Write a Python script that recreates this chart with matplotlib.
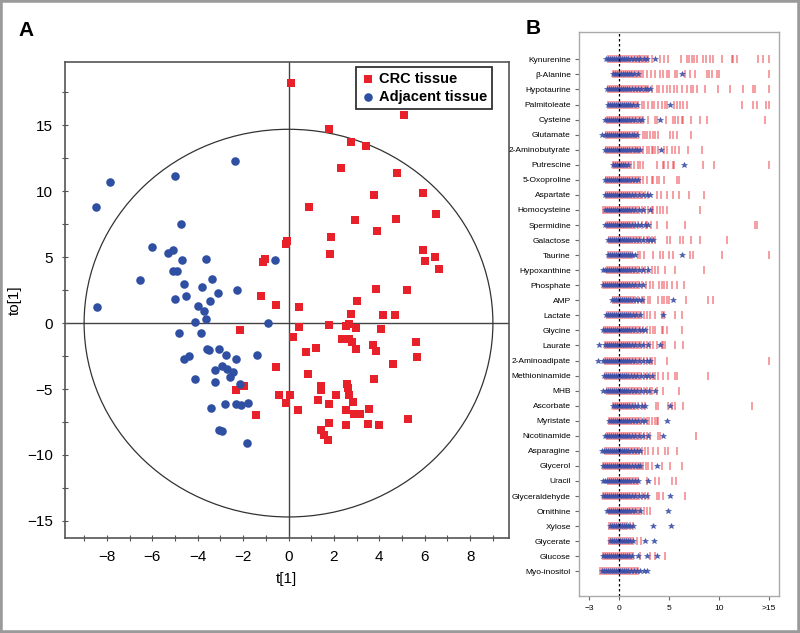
import matplotlib
matplotlib.use('Agg')
import matplotlib.pyplot as plt
from matplotlib.patches import Ellipse, Rectangle
from matplotlib.ticker import MultipleLocator
import numpy as np

plt.rcParams['font.family'] = ['Liberation Sans', 'DejaVu Sans']

# ---------------- Panel A: OPLS-DA score plot ----------------
crc_t = [0.13, 0.89, -0.06, -0.10, -1.04, -1.11, -1.23, -0.53, 0.45, 0.45, -2.15, 0.19,
         5.07, 1.77, 2.74, 3.43, 2.29, 4.78, 3.77, 5.93, 6.51, 2.92, 4.75, 3.91, 1.88,
         1.83, 5.93, 6.45, 6.02, 6.64, 3.87, 5.23, 3.03, 2.77, 4.15, 4.67, 1.80, 2.52,
         2.65, 2.99, 4.07, 2.36, 2.54, 2.68, 2.81, 2.95, 3.74, 3.87, 5.60, 5.66, 1.20,
         0.76, 4.59, -0.53, 0.88, 3.77, 2.59, 2.64, 1.45, 1.42, -0.40, 0.06, -0.09,
         0.44, 1.32, 1.77, 2.11, 2.68, 2.86, 2.54, 2.90, 3.16, 3.56, 3.52, 4.00, 5.26,
         1.77, 2.54, 1.41, 1.55, 1.74, -2.30, -1.95, -1.41]
crc_to = [18.24, 8.78, 6.20, 6.03, 4.86, 4.60, 2.04, 1.37, 1.20, -0.28, -0.53, -1.02,
          15.75, 14.70, 13.76, 13.40, 11.78, 11.37, 9.72, 9.90, 8.24, 7.81, 7.86, 7.02, 6.56,
          5.21, 5.57, 4.98, 4.70, 4.12, 2.60, 2.52, 1.68, 0.66, 0.61, 0.61, -0.15, -0.20,
          -0.08, -0.36, -0.46, -1.22, -1.17, -1.22, -1.43, -1.93, -1.65, -2.08, -1.45, -2.60, -1.86,
          -2.16, -3.13, -3.36, -3.87, -4.22, -4.58, -4.91, -4.78, -5.09, -5.47, -5.42, -6.03,
          -6.59, -5.80, -6.13, -5.47, -5.42, -6.00, -6.59, -6.87, -6.92, -6.49, -7.63, -7.69, -7.25,
          -7.60, -7.69, -8.12, -8.45, -8.83, -5.04, -4.78, -7.00]

adj_t = [-2.34, -7.84, -5.01, -8.48, -4.73, -6.02, -5.30, -5.07, -4.67, -3.63, -0.58,
         -5.10, -4.90, -6.52, -3.38, -4.59, -3.81, -3.12, -2.27, -5.01, -4.53, -3.47,
         -8.45, -3.99, -3.74, -3.63, -4.13, -0.91, -4.82, -3.85, -3.57, -3.48, -3.08,
         -2.74, -2.30, -1.37, -4.59, -4.38, -2.92, -3.22, -2.70, -2.43, -2.56, -4.12,
         -3.24, -2.15, -3.43, -2.78, -2.30, -2.11, -1.80, -3.06, -2.92, -1.83]
adj_to = [12.27, 10.69, 11.12, 8.78, 7.53, 5.80, 5.34, 5.55, 4.78, 4.86, 4.78,
          3.92, 3.92, 3.26, 3.33, 2.93, 2.75, 2.29, 2.54, 1.81, 2.06, 1.65,
          1.25, 1.30, 0.92, 0.31, 0.05, 0.00, -0.73, -0.76, -1.98, -2.06, -1.93,
          -2.44, -2.70, -2.43, -2.70, -2.49, -3.26, -3.59, -3.51, -3.72, -4.10, -4.27,
          -4.48, -4.58, -6.41, -6.16, -6.13, -6.18, -6.03, -8.14, -8.20, -9.08]

# ---------------- Panel B: per-metabolite profiles ----------------
metabolites = ['Kynurenine', 'β-Alanine', 'Hypotaurine', 'Palmitoleate', 'Cysteine',
               'Glutamate', '2-Aminobutyrate', 'Putrescine', '5-Oxoproline', 'Aspartate',
               'Homocysteine', 'Spermidine', 'Galactose', 'Taurine', 'Hypoxanthine',
               'Phosphate', 'AMP', 'Lactate', 'Glycine', 'Laurate', '2-Aminoadipate',
               'Methioninamide', 'MHB', 'Ascorbate', 'Myristate', 'Nicotinamide',
               'Asparagine', 'Glycerol', 'Uracil', 'Glyceraldehyde', 'Ornithine',
               'Xylose', 'Glycerate', 'Glucose', 'Myo-inositol']

crc_profiles = [
    [-1.1, -0.9, -0.7, -0.5, -0.3, -0.1, 0.1, 0.2, 0.4, 0.6, 0.8, 1.0, 1.2, 1.4, 1.6, 1.8, 2.0, 2.1, 2.3, 2.5, 2.7,
     2.9, 3.3, 4.1, 4.5, 4.9, 6.2, 6.8, 7.0, 7.3, 7.5, 7.8, 8.4, 8.7, 9.1, 9.4, 10.3, 11.3, 11.4, 11.8, 13.9, 14.4, 15.0],
    [-0.6, -0.4, -0.2, 0.0, 0.2, 0.4, 0.6, 0.8, 1.0, 1.2, 1.4, 1.6, 1.8, 2.0, 2.2, 2.4,
     2.8, 3.2, 3.6, 4.1, 4.4, 4.8, 5.0, 5.6, 5.8, 6.6, 7.1, 7.6, 8.8, 9.0, 9.3, 9.8, 10.0, 15.0],
    [-1.1, -0.9, -0.7, -0.5, -0.3, -0.1, 0.1, 0.3, 0.5, 0.7, 0.9, 1.1, 1.3, 1.5, 1.7, 1.9, 2.1, 2.3, 2.5, 2.7, 2.9,
     3.3, 3.8, 4.0, 4.4, 4.8, 5.1, 5.5, 5.8, 6.3, 6.8, 7.2, 7.4, 7.8, 8.6, 9.9, 11.1, 12.4, 13.4, 13.6, 15.0],
    [-1.1, -0.9, -0.7, -0.5, -0.3, -0.1, 0.1, 0.3, 0.5, 0.7, 0.9, 1.1, 1.3, 1.5, 1.7, 1.9,
     2.3, 2.5, 2.9, 3.3, 3.5, 3.9, 4.3, 4.6, 4.8, 5.5, 5.8, 6.1, 6.4, 6.8, 12.3, 13.4, 13.8, 14.7, 15.0],
    [-1.2, -1.0, -0.8, -0.6, -0.4, -0.2, 0.0, 0.2, 0.4, 0.6, 0.8, 1.0, 1.2, 1.4, 1.6, 1.8, 2.0, 2.2, 2.4,
     2.9, 3.6, 3.8, 4.7, 5.4, 5.6, 5.9, 6.3, 6.4, 7.2, 8.1, 8.8, 14.6],
    [-1.3, -1.1, -0.9, -0.7, -0.5, -0.3, -0.1, 0.1, 0.3, 0.5, 0.7, 0.9, 1.1, 1.3, 1.5, 1.7, 1.9,
     2.4, 2.6, 2.8, 3.1, 3.4, 3.6, 3.9, 5.1, 5.4, 5.8, 7.2],
    [-1.3, -1.1, -0.9, -0.7, -0.5, -0.3, -0.1, 0.1, 0.3, 0.5, 0.7, 0.9, 1.1, 1.3, 1.5, 1.7, 1.9, 2.1,
     2.4, 2.8, 3.0, 3.3, 3.4, 3.6, 3.9, 4.5, 4.8, 5.3, 5.6, 6.0, 6.9, 8.3],
    [-0.6, -0.4, -0.2, 0.0, 0.2, 0.4, 0.6, 0.8, 1.0, 1.2, 1.5,
     1.9, 2.1, 2.4, 3.8, 4.4, 4.5, 4.9, 5.4, 5.5, 8.4, 9.5, 15.0],
    [-1.3, -1.1, -0.9, -0.7, -0.5, -0.3, -0.1, 0.1, 0.3, 0.5, 0.7, 0.9, 1.1, 1.3, 1.5, 1.7, 1.9, 2.1,
     2.4, 2.8, 3.3, 3.4, 3.8, 4.0, 4.5, 5.8, 6.0],
    [-1.3, -1.1, -0.9, -0.7, -0.5, -0.3, -0.1, 0.1, 0.3, 0.5, 0.7, 0.9, 1.1, 1.3, 1.5, 1.7, 1.9, 2.1, 2.3, 2.6,
     2.9, 3.8, 4.2, 4.8, 5.4, 6.0, 7.0, 8.5],
    [-1.6, -1.4, -1.2, -1.0, -0.8, -0.6, -0.4, -0.2, 0.0, 0.2, 0.4, 0.6, 0.8, 1.0, 1.2, 1.4, 1.6, 1.8, 2.0, 2.3, 2.6,
     2.9, 3.3, 3.4, 3.8, 4.1, 4.4, 4.8, 8.1],
    [-1.2, -1.0, -0.8, -0.6, -0.4, -0.2, 0.0, 0.2, 0.4, 0.6, 0.8, 1.0, 1.2, 1.4, 1.6,
     1.9, 2.3, 2.7, 2.8, 3.2, 3.8, 4.8, 6.6, 13.6, 13.8],
    [-1.0, -0.8, -0.6, -0.4, -0.2, 0.0, 0.2, 0.4, 0.6, 0.8, 1.0, 1.2, 1.4, 1.6, 1.8, 2.0, 2.2, 2.5, 2.8, 3.0, 3.3,
     3.6, 4.8, 5.1, 6.1, 6.4, 7.2, 8.1, 10.8],
    [-1.1, -0.9, -0.7, -0.5, -0.3, -0.1, 0.1, 0.3, 0.5, 0.7, 0.9, 1.1, 1.3,
     1.9, 2.1, 2.5, 3.4, 4.1, 4.4, 5.0, 5.4, 7.1, 7.4, 10.3, 15.0],
    [-1.2, -1.0, -0.8, -0.6, -0.4, -0.2, 0.0, 0.2, 0.4, 0.6, 0.8, 1.0, 1.2, 1.4, 1.6, 1.8, 2.0, 2.3, 2.6, 2.9, 3.3,
     3.6, 3.9, 4.6, 5.6, 8.5],
    [-1.6, -1.4, -1.2, -1.0, -0.8, -0.6, -0.4, -0.2, 0.0, 0.2, 0.4, 0.6, 0.8, 1.0, 1.2, 1.4, 1.6, 1.8, 2.0, 2.3, 2.7,
     3.1, 3.4, 4.0, 4.3, 4.5, 4.8, 5.3, 5.8, 6.5],
    [-0.6, -0.4, -0.2, 0.0, 0.2, 0.4, 0.6, 0.8, 1.0, 1.2, 1.4, 1.6, 1.9,
     2.3, 2.5, 2.9, 3.1, 3.9, 4.3, 4.5, 4.8, 5.0, 6.7, 8.9, 9.4],
    [-1.2, -1.0, -0.8, -0.6, -0.4, -0.2, 0.0, 0.2, 0.4, 0.6, 0.8, 1.0, 1.2, 1.4, 1.6, 1.8, 2.0, 2.2, 2.5, 2.8, 3.1,
     3.6, 4.3, 4.5, 5.6, 6.3],
    [-1.5, -1.3, -1.1, -0.9, -0.7, -0.5, -0.3, -0.1, 0.1, 0.3, 0.5, 0.7, 0.9, 1.1, 1.3, 1.5, 1.7, 1.9, 2.1, 2.4, 2.8,
     3.1, 3.4, 3.6, 4.3, 4.4, 4.8, 6.3],
    [-1.4, -1.2, -1.0, -0.8, -0.6, -0.4, -0.2, 0.0, 0.2, 0.4, 0.6, 0.8, 1.0, 1.2, 1.4, 1.6, 1.8, 2.0, 2.2, 2.5, 2.8, 3.1, 3.4,
     3.8, 4.3, 4.4, 4.6, 5.6, 6.4],
    [-1.4, -1.2, -1.0, -0.8, -0.6, -0.4, -0.2, 0.0, 0.2, 0.4, 0.6, 0.8, 1.0, 1.2, 1.4, 1.6, 1.8, 2.0, 2.2, 2.5, 2.8, 3.1, 3.3,
     3.6, 4.8, 15.0],
    [-1.4, -1.2, -1.0, -0.8, -0.6, -0.4, -0.2, 0.0, 0.2, 0.4, 0.6, 0.8, 1.0, 1.2, 1.4, 1.6, 1.8, 2.0, 2.2, 2.5, 2.8, 3.1, 3.4,
     3.6, 3.9, 4.4, 4.9, 5.6, 5.8, 8.9],
    [-1.2, -1.0, -0.8, -0.6, -0.4, -0.2, 0.0, 0.2, 0.4, 0.6, 0.8, 1.0, 1.2, 1.4, 1.6, 1.8, 2.0, 2.2, 2.5, 2.8, 3.1, 3.3,
     3.8, 4.4, 6.0],
    [-0.6, -0.4, -0.2, 0.0, 0.2, 0.4, 0.6, 0.8, 1.0, 1.2, 1.4, 1.6,
     1.9, 2.3, 2.6, 3.7, 3.9, 4.9, 5.3, 5.6, 6.4, 13.3],
    [-1.0, -0.8, -0.6, -0.4, -0.2, 0.0, 0.2, 0.4, 0.6, 0.8, 1.0, 1.2, 1.4, 1.6, 1.8, 2.0, 2.2, 2.5, 2.8, 3.0, 3.3,
     3.6, 3.8, 3.9],
    [-1.2, -1.0, -0.8, -0.6, -0.4, -0.2, 0.0, 0.2, 0.4, 0.6, 0.8, 1.0, 1.2, 1.4, 1.6, 1.8, 2.0, 2.2, 2.5, 2.8, 3.1,
     3.9, 4.1, 7.7],
    [-1.4, -1.2, -1.0, -0.8, -0.6, -0.4, -0.2, 0.0, 0.2, 0.4, 0.6, 0.8, 1.0, 1.2, 1.4, 1.6, 1.8, 2.0, 2.3, 2.6,
     2.9, 3.4, 3.9, 4.6, 4.9, 5.8],
    [-1.6, -1.4, -1.2, -1.0, -0.8, -0.6, -0.4, -0.2, 0.0, 0.2, 0.4, 0.6, 0.8, 1.0, 1.2, 1.4, 1.6, 1.8, 2.0, 2.2, 2.4,
     2.7, 2.9, 3.3, 4.3, 5.1, 6.3],
    [-1.1, -0.9, -0.7, -0.5, -0.3, -0.1, 0.1, 0.3, 0.5, 0.7, 0.9, 1.1, 1.3, 1.5, 1.7, 1.9,
     2.8, 3.6, 4.0, 5.3, 5.7],
    [-1.6, -1.4, -1.2, -1.0, -0.8, -0.6, -0.4, -0.2, 0.0, 0.2, 0.4, 0.6, 0.8, 1.0, 1.2, 1.4, 1.6, 1.8, 2.0, 2.3, 2.6,
     2.9, 3.8, 4.0, 4.4, 6.6],
    [-1.0, -0.8, -0.6, -0.4, -0.2, 0.0, 0.2, 0.4, 0.6, 0.8, 1.0, 1.2, 1.4, 1.6, 1.8, 2.0, 2.2, 2.5, 2.8, 3.1],
    [-1.0, -0.8, -0.6, -0.4, -0.2, 0.0, 0.2, 0.4, 0.6, 0.8, 1.1, 1.4],
    [-1.0, -0.8, -0.6, -0.4, -0.2, 0.0, 0.2, 0.4, 0.6, 0.8, 1.0, 1.2, 1.4, 1.8, 2.2],
    [-1.6, -1.4, -1.2, -1.0, -0.8, -0.6, -0.4, -0.2, 0.0, 0.2, 0.4, 0.6, 0.8, 1.0, 1.2, 1.4,
     2.1, 3.1, 3.6, 4.6],
    [-1.9, -1.7, -1.5, -1.3, -1.1, -0.9, -0.7, -0.5, -0.3, -0.1, 0.1, 0.3, 0.5, 0.7, 0.9, 1.1, 1.3, 1.5, 1.7, 1.9],
]

adj_profiles = [
    [-1.3, -1.1, -0.9, -0.7, -0.5, -0.3, -0.1, 0.1, 0.3, 0.5, 0.7, 0.9, 1.2, 1.5, 1.8, 2.1, 2.5, 2.8, 3.6],
    [-0.6, -0.4, -0.2, 0.0, 0.2, 0.4, 0.6, 0.8, 1.0, 1.2, 1.5, 1.9, 6.3],
    [-1.2, -1.0, -0.8, -0.6, -0.4, -0.2, 0.0, 0.2, 0.4, 0.6, 0.8, 1.0, 1.3, 1.6, 1.9, 2.2, 2.6, 2.8, 3.1],
    [-1.1, -0.9, -0.7, -0.5, -0.3, -0.1, 0.1, 0.3, 0.5, 0.7, 0.9, 1.1, 1.4, 1.8, 5.1],
    [-1.4, -1.2, -1.0, -0.8, -0.6, -0.4, -0.2, 0.0, 0.2, 0.4, 0.6, 0.8, 1.0, 1.3, 1.6, 2.0, 2.3, 4.1],
    [-1.7, -1.4, -1.2, -1.0, -0.8, -0.6, -0.4, -0.2, 0.0, 0.2, 0.4, 0.6, 0.8, 1.0, 1.3, 1.5, 1.8],
    [-1.4, -1.2, -1.0, -0.8, -0.6, -0.4, -0.2, 0.0, 0.2, 0.4, 0.6, 0.8, 1.0, 1.3, 1.6, 1.8, 2.1, 4.2],
    [-0.6, -0.4, -0.2, 0.0, 0.2, 0.4, 0.6, 0.9, 6.5],
    [-1.4, -1.2, -1.0, -0.8, -0.6, -0.4, -0.2, 0.0, 0.2, 0.4, 0.6, 0.8, 1.0, 1.3, 1.6, 1.9],
    [-1.4, -1.2, -1.0, -0.8, -0.6, -0.4, -0.2, 0.0, 0.2, 0.4, 0.6, 0.8, 1.0, 1.3, 1.6, 2.0, 2.4, 2.8, 3.1],
    [-1.4, -1.2, -1.0, -0.8, -0.6, -0.4, -0.2, 0.0, 0.2, 0.4, 0.6, 0.8, 1.0, 1.3, 1.6, 2.0, 2.4, 3.1],
    [-1.4, -1.2, -1.0, -0.8, -0.6, -0.4, -0.2, 0.0, 0.2, 0.4, 0.6, 0.8, 1.0, 1.3, 1.6, 1.9, 2.2, 2.6, 2.9],
    [-1.1, -0.9, -0.7, -0.5, -0.3, -0.1, 0.1, 0.3, 0.5, 0.7, 0.9, 1.1, 1.4, 1.7, 2.0, 2.4, 2.8, 3.1, 3.4],
    [-1.1, -0.9, -0.7, -0.5, -0.3, -0.1, 0.1, 0.3, 0.5, 0.7, 0.9, 1.1, 1.3, 1.6, 6.3],
    [-1.6, -1.4, -1.2, -1.0, -0.8, -0.6, -0.4, -0.2, 0.0, 0.2, 0.4, 0.6, 0.8, 1.0, 1.3, 1.6, 2.0, 2.4, 2.9],
    [-1.6, -1.4, -1.2, -1.0, -0.8, -0.6, -0.4, -0.2, 0.0, 0.2, 0.4, 0.6, 0.8, 1.0, 1.3, 1.6, 2.0, 2.4],
    [-0.7, -0.5, -0.3, -0.1, 0.1, 0.3, 0.5, 0.7, 0.9, 1.1, 1.4, 1.7, 2.0, 2.3, 5.4],
    [-1.3, -1.1, -0.9, -0.7, -0.5, -0.3, -0.1, 0.1, 0.3, 0.5, 0.7, 0.9, 1.1, 1.4, 1.7, 2.1, 4.4],
    [-1.6, -1.4, -1.2, -1.0, -0.8, -0.6, -0.4, -0.2, 0.0, 0.2, 0.4, 0.6, 0.8, 1.0, 1.3, 1.6, 2.0, 2.3, 2.6],
    [-2.0, -1.4, -1.2, -1.0, -0.8, -0.6, -0.4, -0.2, 0.0, 0.2, 0.4, 0.6, 0.8, 1.0, 1.3, 1.6, 2.0, 2.4, 2.9, 4.1],
    [-2.1, -1.6, -1.4, -1.2, -1.0, -0.8, -0.6, -0.4, -0.2, 0.0, 0.2, 0.4, 0.6, 0.8, 1.0, 1.3, 1.6, 2.0, 2.4, 2.8, 3.1],
    [-1.5, -1.3, -1.1, -0.9, -0.7, -0.5, -0.3, -0.1, 0.1, 0.3, 0.5, 0.7, 0.9, 1.2, 1.5, 1.8, 2.2, 2.6, 2.9, 3.3],
    [-1.6, -1.3, -1.1, -0.9, -0.7, -0.5, -0.3, -0.1, 0.1, 0.3, 0.5, 0.7, 0.9, 1.2, 1.5, 1.8, 2.2, 2.6, 3.0, 3.6],
    [-0.6, -0.4, -0.2, 0.0, 0.2, 0.4, 0.6, 0.8, 1.0, 1.3, 1.6, 1.9, 2.3, 2.6, 5.1],
    [-1.0, -0.8, -0.6, -0.4, -0.2, 0.0, 0.2, 0.4, 0.6, 0.8, 1.0, 1.3, 1.6, 1.9, 2.3, 2.6, 4.8],
    [-1.4, -1.2, -1.0, -0.8, -0.6, -0.4, -0.2, 0.0, 0.2, 0.4, 0.6, 0.8, 1.0, 1.3, 1.6, 2.0, 2.4, 2.9, 4.4],
    [-1.7, -1.5, -1.3, -1.1, -0.9, -0.7, -0.5, -0.3, -0.1, 0.1, 0.3, 0.5, 0.7, 0.9, 1.2, 1.5, 1.8, 2.1],
    [-1.6, -1.4, -1.2, -1.0, -0.8, -0.6, -0.4, -0.2, 0.0, 0.2, 0.4, 0.6, 0.8, 1.0, 1.3, 1.6, 1.9, 2.1, 3.8],
    [-1.6, -1.4, -1.2, -1.0, -0.8, -0.6, -0.4, -0.2, 0.0, 0.2, 0.4, 0.6, 0.8, 1.0, 1.3, 1.6, 1.9, 2.9],
    [-1.6, -1.4, -1.2, -1.0, -0.8, -0.6, -0.4, -0.2, 0.0, 0.2, 0.4, 0.6, 0.8, 1.0, 1.3, 1.6, 2.0, 2.4, 2.8, 5.1],
    [-1.2, -1.0, -0.8, -0.6, -0.4, -0.2, 0.0, 0.2, 0.4, 0.6, 0.8, 1.0, 1.3, 1.6, 2.1, 4.9],
    [-0.9, -0.7, -0.5, -0.3, -0.1, 0.1, 0.3, 0.5, 0.7, 0.9, 1.1, 1.4, 3.4, 5.2],
    [-0.9, -0.7, -0.5, -0.3, -0.1, 0.1, 0.3, 0.5, 0.7, 0.9, 1.1, 1.4, 2.6, 3.5],
    [-1.6, -1.4, -1.2, -1.0, -0.8, -0.6, -0.4, -0.2, 0.0, 0.2, 0.4, 0.6, 0.8, 1.0, 1.3, 1.9, 2.8, 3.8],
    [-1.7, -1.5, -1.3, -1.1, -0.9, -0.7, -0.5, -0.3, -0.1, 0.1, 0.3, 0.5, 0.7, 0.9, 1.2, 1.5, 1.8, 2.1, 2.5, 2.8],
]

B_xticks = [-3, 0, 5, 10, 15]
B_xticklabels = ['\u22123', '0', '5', '10', '>15']

RED = '#E8202A'
BLUE = '#2F4FA2'

fig = plt.figure(figsize=(8.0, 6.33), dpi=100)
fig.patches.append(Rectangle((0, 0), 1, 1, transform=fig.transFigure, fill=False,
                             edgecolor='#9a9a9a', linewidth=4))

# ---------- Panel A ----------
axA = fig.add_axes([0.081, 0.150, 0.555, 0.752])
axA.set_xlim(-9.85, 9.7)
axA.set_ylim(-16.3, 19.8)
axA.axhline(0, color='#444444', lw=1.0, zorder=1)
axA.axvline(0, color='#444444', lw=1.0, zorder=1)
axA.add_patch(Ellipse((0, 0), 18.0, 29.4, fill=False, edgecolor='#333333', lw=0.9, zorder=1))
axA.scatter(crc_t, crc_to, marker='s', s=30, c=RED, linewidths=0, zorder=3, label='CRC tissue')
axA.scatter(adj_t, adj_to, marker='o', s=38, c=BLUE, linewidths=0, zorder=3, label='Adjacent tissue')

axA.xaxis.set_major_locator(MultipleLocator(2))
axA.xaxis.set_minor_locator(MultipleLocator(1))
axA.yaxis.set_major_locator(MultipleLocator(5))
axA.yaxis.set_minor_locator(MultipleLocator(2.5))
axA.tick_params(which='both', direction='inout', length=5, width=0.8, color='#555555',
                labelsize=11, pad=6)
for sp in axA.spines.values():
    sp.set_color('#555555')
    sp.set_linewidth(1.2)
axA.set_xlabel('t[1]', fontsize=11, labelpad=6)
axA.set_ylabel('to[1]', fontsize=11, labelpad=4)

leg = axA.legend(loc='upper right', bbox_to_anchor=(0.962, 0.99), borderaxespad=0,
                 frameon=True, fancybox=False, edgecolor='black', markerscale=1.0,
                 prop={'weight': 'bold', 'size': 10.5}, handletextpad=0.2,
                 borderpad=0.35, labelspacing=0.25, handlelength=1.0)
leg.get_frame().set_linewidth(1.3)

# ---------- Panel B ----------
axB = fig.add_axes([0.724, 0.058, 0.250, 0.891])
n = len(metabolites)
for i, name in enumerate(metabolites):
    yv = n - 1 - i
    crc = np.minimum(np.array(crc_profiles[i]), 15)
    adj = np.minimum(np.array(adj_profiles[i]), 15)
    axB.plot(crc, np.full(len(crc), yv), linestyle='none', marker='|', ms=6, mew=1.1,
             color=RED, alpha=0.55, zorder=2)
    axB.plot(adj, np.full(len(adj), yv), linestyle='none', marker='*', ms=4.3, mew=0.4,
             color='#3a4fa8', alpha=0.9, zorder=3)

axB.axvline(0, color='black', ls=(0, (2, 2)), lw=0.9, zorder=4)
axB.set_xlim(-4, 16)
axB.set_ylim(-1.66, n - 1 + 1.8)
axB.set_yticks(range(n))
axB.set_yticklabels(metabolites[::-1], fontsize=6)
axB.set_xticks(B_xticks)
axB.set_xticklabels(B_xticklabels, fontsize=6)
axB.tick_params(axis='both', direction='out', length=3, width=0.8, color='#666666', pad=3)
for sp in axB.spines.values():
    sp.set_color('#aaaaaa')
    sp.set_linewidth(1.0)

fig.text(18 / 800, 1 - 30 / 633, 'A', fontsize=15, fontweight='bold', va='center', ha='left')
fig.text(526 / 800, 1 - 28 / 633, 'B', fontsize=15, fontweight='bold', va='center', ha='left')

fig.savefig('out.png', dpi=100)
